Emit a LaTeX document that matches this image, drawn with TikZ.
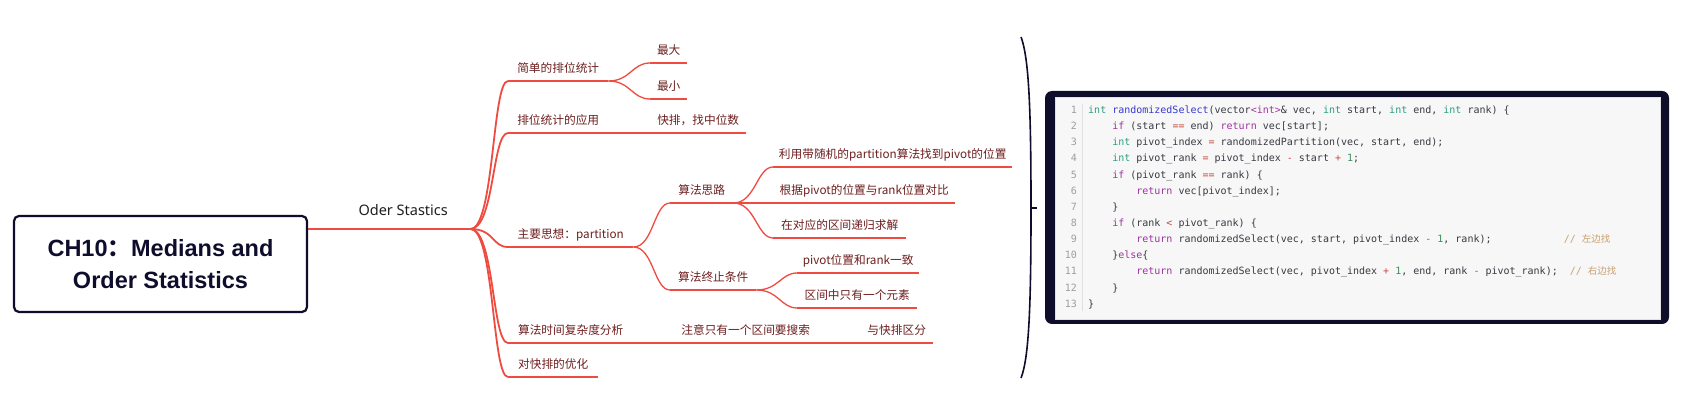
\documentclass[tikz,border=0pt]{standalone}
\usepackage{fontspec}
\setmainfont{Noto Sans}
\newfontfamily\cjk{Noto Sans CJK SC}
\newfontfamily\codefont{DejaVu Sans Mono}
\newfontfamily\rootfont{Liberation Sans}

\definecolor{navy}{HTML}{0E0E2C}
\definecolor{mred}{HTML}{F04B41}
\definecolor{lbltext}{HTML}{6E1E1E}
\definecolor{ckwc}{HTML}{A032A0}
\definecolor{ctyc}{HTML}{2E9C82}
\definecolor{cfnc}{HTML}{3838D0}
\definecolor{copc}{HTML}{C8463C}
\definecolor{cnumc}{HTML}{3C8C5A}
\definecolor{ccomc}{HTML}{C8A070}
\definecolor{cdefc}{HTML}{383A42}

% syntax colours for the code panel
\newcommand\ckw[1]{\textcolor{ckwc}{#1}}
\newcommand\cty[1]{\textcolor{ctyc}{#1}}
\newcommand\cfn[1]{\textcolor{cfnc}{#1}}
\newcommand\cop[1]{\textcolor{copc}{#1}}
\newcommand\cnum[1]{\textcolor{cnumc}{#1}}
\newcommand\ccom[1]{\textcolor{ccomc}{#1}}

\begin{document}
\begin{tikzpicture}[
    x=1pt, y=-1pt,
    root/.style={
        rectangle, rounded corners=5pt, draw=navy, line width=2.2pt,
        minimum width=293pt, minimum height=96pt, align=center,
        font=\rootfont\bfseries\fontsize{23.5}{32}\selectfont, text=navy
    },
    topic/.style={
        anchor=south west, minimum width=#1, inner xsep=0pt, inner ysep=8.5pt,
        text height=9pt, text depth=0pt,
        font={\cjk\fontsize{11.7}{14}\selectfont}, text=lbltext
    },
    branch/.style={draw=mred, line width=1.8pt},
    twig/.style={draw=mred, line width=1.3pt},
    brace/.style={draw=navy, line width=1.6pt},
    lineno/.style={anchor=base east, inner sep=0pt,
        font=\codefont\fontsize{10}{12}\selectfont, text=black!38},
    code/.style={anchor=base west, inner sep=0pt,
        font=\codefont\fontsize{10}{12}\selectfont, text=cdefc}
]
\useasboundingbox[fill=white] (0,0) rectangle (1686,411);

% Root and first level
\node[root] (root) at (160.5,264) {CH10{\cjk ：}Medians and\\Order Statistics};
\node[anchor=south west, minimum width=134pt, inner xsep=0pt, inner ysep=13pt,
      text depth=0pt, font=\fontsize{14.5}{17}\selectfont, text=black!88]
      (oder) at (336,229) {Oder Stastics};
\node[topic=100pt] (s1) at (508,81)  {简单的排位统计};
\node[topic=100pt] (s2) at (508,133) {排位统计的应用};
\node[topic=125pt] (s3) at (508,247) {主要思想：partition};
\node[topic=125pt] (s4) at (508,343) {算法时间复杂度分析};
\node[topic=90pt]  (s5) at (508,377) {对快排的优化};
% Deeper levels
\node[topic=37pt]  (s1a) at (650,63)  {最大};
\node[topic=37pt]  (s1b) at (650,99)  {最小};
\node[topic=96pt]  (s2a) at (650,133) {快排，找中位数};
\node[topic=63pt]  (s3a) at (670,203) {算法思路};
\node[topic=86pt]  (s3b) at (670,290) {算法终止条件};
\node[topic=239pt] (s3a1) at (773,167) {利用带随机的partition算法找到pivot的位置};
\node[topic=182pt] (s3a2) at (773,203) {根据pivot的位置与rank位置对比};
\node[topic=133pt] (s3a3) at (773,238) {在对应的区间递归求解};
\node[topic=122pt] (s3b1) at (797,273) {pivot位置和rank一致};
\node[topic=120pt] (s3b2) at (797,308) {区间中只有一个元素};
\node[topic=147pt] (s4a)  at (672,343) {注意只有一个区间要搜索};
\node[topic=73pt]  (s4a1) at (860,343) {与快排区分};

% Underlines
\draw[branch, line width=2.2pt] (root.north east |- oder.south west) -- (oder.south west) -- (oder.south east);
\foreach \n in {s1,s2,s3,s4,s5}
  \draw[branch] (\n.south west) -- (\n.south east);
\foreach \n in {s1a,s1b,s2a,s3a,s3b,s3a1,s3a2,s3a3,s3b1,s3b2,s4a,s4a1}
  \draw[twig] (\n.south west) -- (\n.south east);

% Connectors
\foreach \n in {s1,s2,s3,s4,s5}
  \draw[branch] (oder.south east) .. controls +(24,0) and +(-16,0) .. (\n.south west);
\foreach \n in {s1a,s1b}
  \draw[twig] (s1.south east) .. controls +(22,0) and +(-18,0) .. (\n.south west);
\draw[twig] (s2.south east) -- (s2a.south west);
\foreach \n in {s3a,s3b}
  \draw[twig] (s3.south east) .. controls +(20,0) and +(-16,0) .. (\n.south west);
\foreach \n in {s3a1,s3a2,s3a3}
  \draw[twig] (s3a.south east) .. controls +(22,0) and +(-16,0) .. (\n.south west);
\foreach \n in {s3b1,s3b2}
  \draw[twig] (s3b.south east) .. controls +(22,0) and +(-16,0) .. (\n.south west);
\draw[twig] (s4.south east) -- (s4a.south west);
\draw[twig] (s4a.south east) -- (s4a1.south west);

% Brace
\draw[brace] (1021,37) .. controls (1029,58) and (1031,110) .. (1031,208)
             .. controls (1031,306) and (1029,358) .. (1021,378);
\draw[brace] (1031,208) -- (1037,208);

% Code panel
\node[fill=navy, rounded corners=7pt, inner sep=0pt,
      minimum width=624pt, minimum height=233pt] (frame) at (1357,207.5) {};
\node[fill=black!3, draw=black!12, line width=0.6pt, inner sep=0pt,
      minimum width=605pt, minimum height=222pt] (panel) at (1357.5,208) {};
\draw[black!12, line width=0.6pt] (1082.5,104) -- (1082.5,311);
\foreach \i in {1,...,13}
  \node[lineno] (n\i) at (1077,{113.5+16.15*(\i-1)}) {\i};

\node[code] (c1)  at (1088,113.5)  {\cty{int} \cfn{randomizedSelect}(vector\ckw{<int>}\& vec, \cty{int} start, \cty{int} end, \cty{int} rank) \{};
\node[code] (c2)  at (1088,129.65) {~~~~\ckw{if} (start \cop{==} end) \ckw{return} vec[start];};
\node[code] (c3)  at (1088,145.8)  {~~~~\cty{int} pivot\_index \cop{=} randomizedPartition(vec, start, end);};
\node[code] (c4)  at (1088,161.95) {~~~~\cty{int} pivot\_rank \cop{=} pivot\_index \cop{-} start \cop{+} \cnum{1};};
\node[code] (c5)  at (1088,178.1)  {~~~~\ckw{if} (pivot\_rank \cop{==} rank) \{};
\node[code] (c6)  at (1088,194.25) {~~~~~~~~\ckw{return} vec[pivot\_index];};
\node[code] (c7)  at (1088,210.4)  {~~~~\}};
\node[code] (c8)  at (1088,226.55) {~~~~\ckw{if} (rank \cop{<} pivot\_rank) \{};
\node[code] (c9)  at (1088,242.7)  {~~~~~~~~\ckw{return} randomizedSelect(vec, start, pivot\_index \cop{-} \cnum{1}, rank);~~~~~~~~~~~~\ccom{// {\cjk\fontsize{9.5}{12}\selectfont 左边找}}};
\node[code] (c10) at (1088,258.85) {~~~~\}\ckw{else}\{};
\node[code] (c11) at (1088,275.0)  {~~~~~~~~\ckw{return} randomizedSelect(vec, pivot\_index \cop{+} \cnum{1}, end, rank \cop{-} pivot\_rank);~~\ccom{// {\cjk\fontsize{9.5}{12}\selectfont 右边找}}};
\node[code] (c12) at (1088,291.15) {~~~~\}};
\node[code] (c13) at (1088,307.3)  {\}};
\end{tikzpicture}
\end{document}
